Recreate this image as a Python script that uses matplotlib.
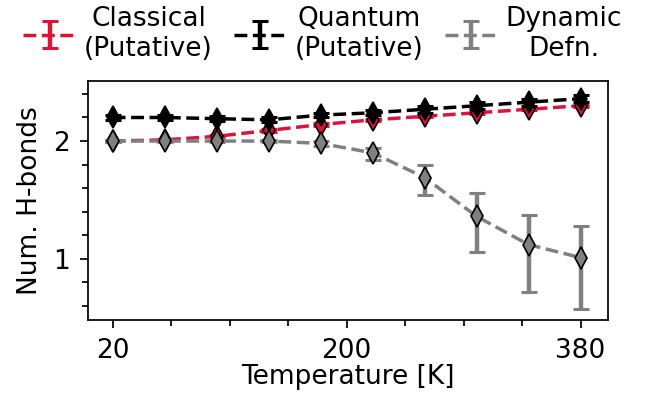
import numpy as np
import matplotlib
matplotlib.use('Agg')
import matplotlib.pyplot as plt
from matplotlib.ticker import FixedLocator, MultipleLocator

# Temperaturas (K)
T = [20, 60, 100, 140, 180, 220, 260, 300, 340, 380]

# Número médio de ligações H (erros: abaixo, acima)
classico = [2.00, 2.01, 2.04, 2.09, 2.14, 2.18, 2.21, 2.24, 2.27, 2.30]
classico_inf = [0.01, 0.01, 0.01, 0.01, 0.01, 0.01, 0.01, 0.01, 0.01, 0.01]
classico_sup = [0.01, 0.01, 0.01, 0.01, 0.01, 0.01, 0.01, 0.01, 0.01, 0.01]
quantico = [2.20, 2.20, 2.19, 2.18, 2.22, 2.24, 2.27, 2.30, 2.33, 2.36]
quantico_inf = [0.02, 0.02, 0.02, 0.02, 0.02, 0.02, 0.03, 0.03, 0.03, 0.03]
quantico_sup = [0.02, 0.02, 0.02, 0.02, 0.02, 0.02, 0.03, 0.03, 0.03, 0.03]
dinamico = [2.00, 2.00, 2.00, 2.00, 1.98, 1.90, 1.69, 1.36, 1.12, 1.01]
dinamico_inf = [0.01, 0.01, 0.01, 0.01, 0.02, 0.057, 0.15, 0.30, 0.40, 0.44]
dinamico_sup = [0.01, 0.01, 0.01, 0.01, 0.02, 0.045, 0.105, 0.20, 0.256, 0.27]

rotulos = ['Classical\n(Putative)', 'Quantum\n(Putative)', 'Dynamic\nDefn.']
cores = ['crimson', 'black', 'gray']

plt.rcParams['font.size'] = 19
plt.rcParams['axes.linewidth'] = 1.25

fig = plt.figure(figsize=(6.49, 3.98), dpi=100)
ax = fig.add_axes([0.1356, 0.196, 0.801, 0.6005])

series = [(classico, classico_inf, classico_sup),
          (quantico, quantico_inf, quantico_sup),
          (dinamico, dinamico_inf, dinamico_sup)]
handles = []
for k, (y, e1, e2) in enumerate(series):
    h = ax.errorbar(T, y, yerr=[e1, e2], ls='--', lw=2.5, color=cores[k],
                    elinewidth=3.2, capsize=6, capthick=2.2, zorder=2 + 2 * k)
    ax.plot(T, y, 'd', ms=11, mfc=cores[k], mec='k', mew=1.2, zorder=3 + 2 * k)
    handles.append(h)

ax.set_xlim(1, 401)
ax.set_ylim(0.48, 2.51)
ax.set_xticks([20, 200, 380])
ax.xaxis.set_minor_locator(FixedLocator([65, 110, 155, 245, 290, 335]))
ax.set_yticks([1, 2])
ax.yaxis.set_minor_locator(MultipleLocator(0.2))
ax.tick_params(which='major', length=6, width=1.25, pad=7)
ax.tick_params(which='minor', length=4, width=1.25)
ax.set_xlabel('Temperature [K]', labelpad=0)
ax.set_ylabel('Num. H-bonds', labelpad=7)

leg = fig.legend(handles, rotulos, loc='upper center', ncol=3, frameon=False,
                 bbox_to_anchor=(0.497, 1.012), handletextpad=0.3,
                 columnspacing=0.8, borderaxespad=0)
for t in leg.get_texts():
    t.set_multialignment('center')

plt.savefig('out.png', dpi=100)
